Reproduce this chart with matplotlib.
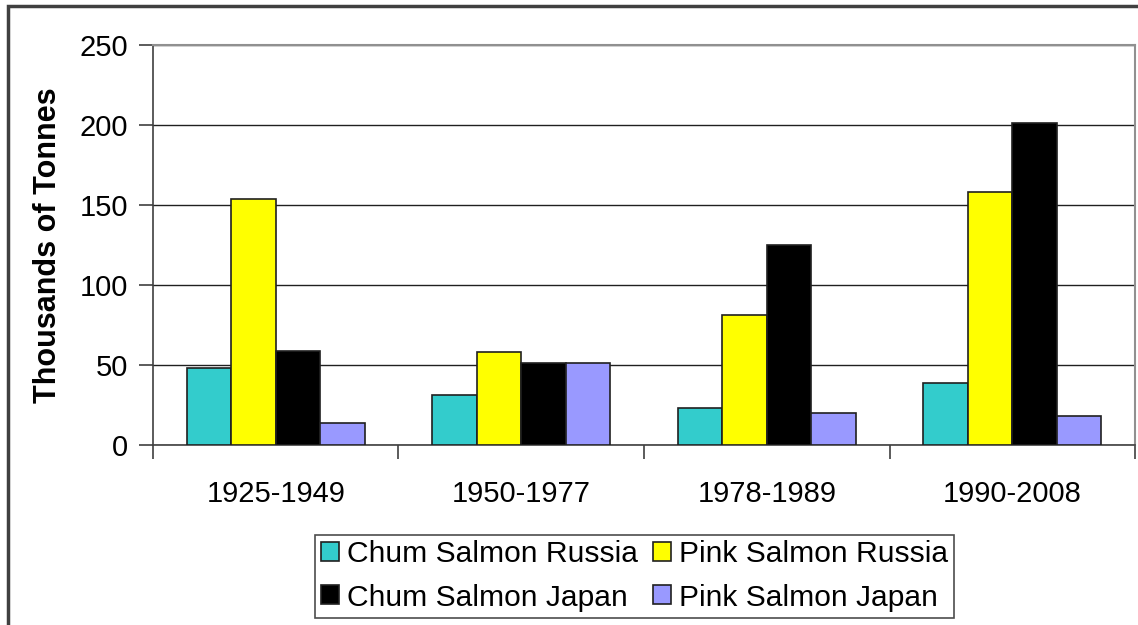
import numpy as np
import matplotlib.pyplot as plt
from matplotlib.patches import Rectangle

plt.rcParams['font.family'] = ['Liberation Sans', 'DejaVu Sans']

periods = ['1925-1949', '1950-1977', '1978-1989', '1990-2008']
chum_russia = [48, 31, 23, 39]
pink_russia = [154, 58, 81, 158]
chum_japan = [59, 51, 125, 201]
pink_japan = [14, 51, 20, 18]

series = [
    ('Chum Salmon Russia', chum_russia, '#33CCCC'),
    ('Pink Salmon Russia', pink_russia, '#FFFF00'),
    ('Chum Salmon Japan', chum_japan, '#000000'),
    ('Pink Salmon Japan', pink_japan, '#9999FF'),
]

fig = plt.figure(figsize=(11.38, 6.25), dpi=100)
ax = fig.add_axes([0.1344, 0.288, 0.863, 0.64])

x = np.arange(len(periods))
w = 0.181
bars = []
for i, (name, vals, col) in enumerate(series):
    b = ax.bar(x + (i - 1.5) * w, vals, width=w, color=col,
               edgecolor='#202020', linewidth=1.2, label=name, zorder=3)
    bars.append(b)

ax.set_xlim(-0.5, len(periods) - 0.5)
ax.set_ylim(0, 250)
ax.set_yticks(np.arange(0, 251, 50))
ax.yaxis.grid(True, color='#202020', linewidth=1.0, zorder=0)
ax.set_xticks(x)
ax.set_xticklabels(periods)
ax.set_xticks(np.arange(-0.5, len(periods)), minor=True)
ax.tick_params(axis='x', which='major', length=0, pad=25, labelsize=21)
ax.tick_params(axis='x', which='minor', length=10, width=1.2, color='#404040')
ax.tick_params(axis='y', length=10, width=1.2, color='#404040', pad=8,
               labelsize=21)
ax.set_ylabel('Thousands of Tonnes', fontsize=22, fontweight='bold',
              labelpad=12)

for s in ['left', 'bottom']:
    ax.spines[s].set_color('#404040')
    ax.spines[s].set_linewidth(1.2)
for s in ['top', 'right']:
    ax.spines[s].set_color('#909090')
    ax.spines[s].set_linewidth(1.5)

# legend: two rows, filled row-wise like the original
order = [0, 2, 1, 3]
leg = fig.legend([bars[i] for i in order], [series[i][0] for i in order],
                 ncol=2, loc='center', bbox_to_anchor=(0.5576, 0.0784),
                 fontsize=21.6, frameon=True, fancybox=False,
                 handlelength=0.6, handleheight=0.6, handletextpad=0.27,
                 columnspacing=0.5, labelspacing=0.5, borderpad=0.2,
                 borderaxespad=0)
leg.get_frame().set_edgecolor('#202020')
leg.get_frame().set_linewidth(1.2)

# outer chart frame (cut off at right and bottom)
fig.patches.append(Rectangle((8 / 1138, -0.2), 1.2, 1.19,
                             transform=fig.transFigure, fill=False,
                             edgecolor='#404040', linewidth=2.5))

fig.savefig('out.png', dpi=100)
